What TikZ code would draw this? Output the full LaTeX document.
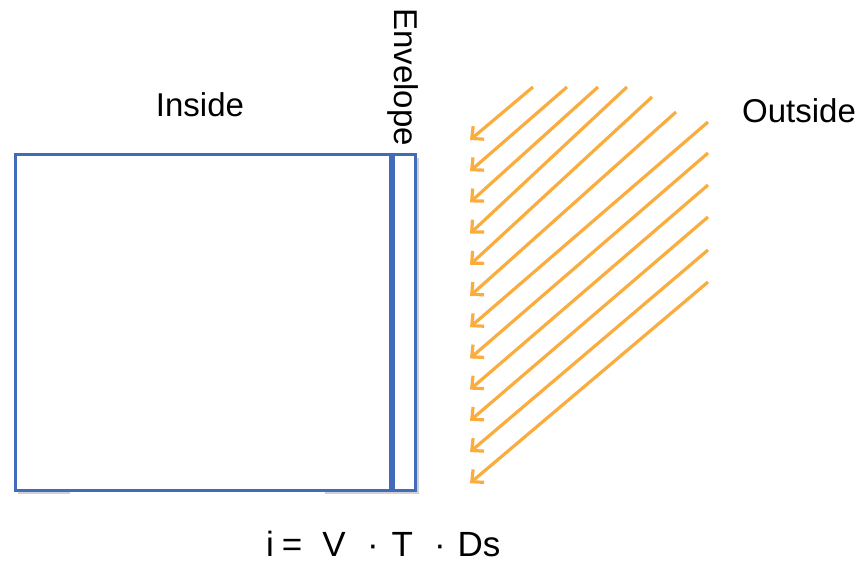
\documentclass[tikz,border=0pt]{standalone}
\usepackage{fontspec}
\setmainfont{Liberation Sans}
\usetikzlibrary{arrows.meta}
\definecolor{wallblue}{RGB}{66,108,186}
\definecolor{sunorange}{RGB}{250,172,62}

\begin{document}
\begin{tikzpicture}[x=1pt,y=-1pt,
  >={Straight Barb[length=9pt,width=17pt]},
  wall/.style={draw=wallblue,line width=3.4pt,inner sep=0pt,anchor=north west},
  layer/.style={draw=wallblue,line width=6pt},
  shade/.style={draw=black!18,line width=3pt},
  ray/.style={->,draw=sunorange,line width=3.2pt},
  lbl/.style={font=\fontsize{33}{40}\selectfont,inner sep=0pt}]
  \useasboundingbox (0,0) rectangle (860,561);
  % faint shadow under the wall
  \draw[shade] (18,492) -- (70,492);
  \draw[shade] (325,492) -- (417,492) -- (417,158);
  % inside room and envelope layer
  \node[wall,minimum width=375pt,minimum height=336pt] (room) at (14,153) {};
  \node[wall,minimum width=25pt,minimum height=336pt] (env) at (389,153) {};
  \draw[layer] (room.north east) -- (room.south east);
  \node[lbl] (inside) at (200,105) {Inside};
  \node[lbl] (outside) at (799,111) {Outside};
  \node[lbl,rotate=-90] (envelope) at (403,77) {Envelope};
  % incoming rays
  \foreach \sx/\sy/\k in {533/87/0,567/87/1,598/87/2,627/87/3,652/97/4,676/112/5,
                          708/122/6,708/153/7,708/185/8,708/217/9,708/250/10,708/282/11}
    \draw[ray] (\sx,\sy) -- (470,{140+31.2*\k});
  \node[lbl,font=\fontsize{35}{40}\selectfont,anchor=west] (formula) at (266,544)
    {i\hspace{8pt}=\hspace{20pt}V\hspace{21.4pt}·\hspace{12.8pt}T\hspace{21.1pt}·\hspace{11.8pt}Ds};
\end{tikzpicture}
\end{document}
